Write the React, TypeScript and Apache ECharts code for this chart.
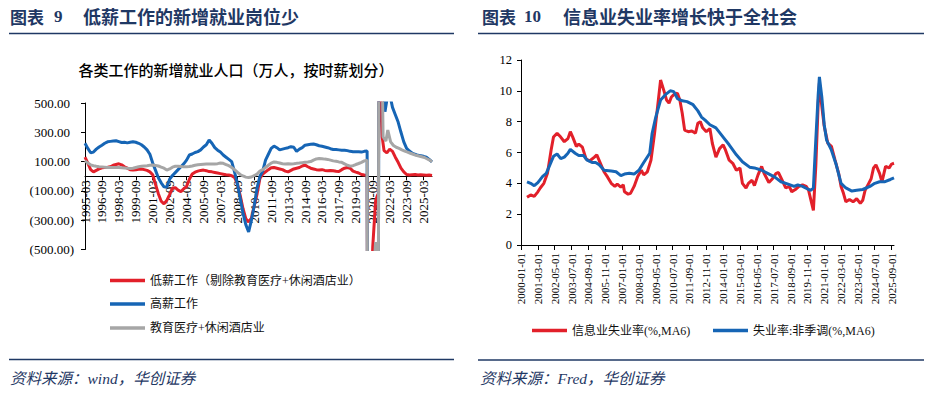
import React, { useEffect, useRef } from "react";
import * as echarts from "echarts";

const NAVY = "#1F3864";
const RED = "#E2202A";
const BLUE = "#1665B5";
const GRAY = "#A6A6A6";
const SERIF_CJK = "'Liberation Serif', 'Noto Sans CJK SC', serif";
const CJK = "'Noto Sans CJK SC', sans-serif";

function monthLabels(y0: number, m0: number, y1: number, m1: number): string[] {
  const out: string[] = [];
  let y = y0;
  let m = m0;
  while (y < y1 || (y === y1 && m <= m1)) {
    out.push(`${y}-${String(m).padStart(2, "0")}`);
    m++;
    if (m > 12) {
      m = 1;
      y++;
    }
  }
  return out;
}

// ---------- Left chart (新增就业人口, 万人) ----------
const leftMonths = monthLabels(1995, 3, 2025, 12);
const leftYTicks = [-500, -300, -100, 100, 300, 500];

const lowWageName = "低薪工作（剔除教育医疗+休闲酒店业）";
const highWageName = "高薪工作";
const eduName = "教育医疗+休闲酒店业";

const lowWage: [string, number][] = [
  ["1995-03", 130], ["1995-06", 90], ["1995-09", 45], ["1995-12", 30],
  ["1996-03", 40], ["1996-06", 50], ["1996-09", 58], ["1996-12", 60],
  ["1997-03", 62], ["1997-06", 65], ["1997-09", 75], ["1997-12", 80],
  ["1998-03", 85], ["1998-06", 78], ["1998-09", 65], ["1998-12", 55],
  ["1999-03", 45], ["1999-06", 42], ["1999-09", 45], ["1999-12", 48],
  ["2000-03", 50], ["2000-06", 45], ["2000-09", 40], ["2000-12", 30],
  ["2001-03", 10], ["2001-06", -55], ["2001-09", -119], ["2001-12", -170],
  ["2002-03", -188], ["2002-06", -165], ["2002-09", -125], ["2002-12", -80],
  ["2003-03", -78], ["2003-06", -95], ["2003-09", -105], ["2003-12", -85],
  ["2004-03", -70], ["2004-06", -20], ["2004-09", 15], ["2004-12", 28],
  ["2005-03", 35], ["2005-06", 40], ["2005-09", 42], ["2005-12", 38],
  ["2006-03", 32], ["2006-06", 30], ["2006-09", 26], ["2006-12", 22],
  ["2007-03", 18], ["2007-06", 14], ["2007-09", 10], ["2007-12", 8],
  ["2008-03", 4], ["2008-06", -8], ["2008-09", -50], ["2008-12", -130],
  ["2009-03", -220], ["2009-06", -290], ["2009-09", -312], ["2009-12", -285],
  ["2010-03", -200], ["2010-06", -120], ["2010-09", -15], ["2010-12", 15],
  ["2011-03", 30], ["2011-06", 45], ["2011-09", 58], ["2011-12", 60],
  ["2012-03", 55], ["2012-06", 50], ["2012-09", 45], ["2012-12", 35],
  ["2013-03", 30], ["2013-06", 40], ["2013-09", 50], ["2013-12", 55],
  ["2014-03", 60], ["2014-06", 70], ["2014-09", 76], ["2014-12", 65],
  ["2015-03", 55], ["2015-06", 50], ["2015-09", 45], ["2015-12", 42],
  ["2016-03", 45], ["2016-06", 40], ["2016-09", 38], ["2016-12", 40],
  ["2017-03", 38], ["2017-06", 34], ["2017-09", 32], ["2017-12", 45],
  ["2018-03", 55], ["2018-06", 60], ["2018-09", 55], ["2018-12", 35],
  ["2019-03", 28], ["2019-06", 22], ["2019-09", 12], ["2019-12", 8],
  ["2020-03", 5], ["2020-04", -2200], ["2020-06", -1200], ["2020-08", -700],
  ["2020-09", -480], ["2020-12", -170], ["2021-02", -130], ["2021-03", -117],
  ["2021-04", 1500], ["2021-05", 700], ["2021-07", 270], ["2021-09", 175],
  ["2021-12", 160], ["2022-03", 185], ["2022-06", 170], ["2022-09", 130],
  ["2022-12", 95], ["2023-03", 55], ["2023-06", 30], ["2023-09", 12],
  ["2023-12", 8], ["2024-03", 10], ["2024-06", 12], ["2024-09", 8],
  ["2024-12", 10], ["2025-03", 9], ["2025-06", 7], ["2025-09", 8], ["2025-12", 5],
];

const highWage: [string, number][] = [
  ["1995-03", 225], ["1995-06", 190], ["1995-09", 160], ["1995-12", 165],
  ["1996-03", 185], ["1996-06", 200], ["1996-09", 212], ["1996-12", 225],
  ["1997-03", 235], ["1997-06", 238], ["1997-09", 240], ["1997-12", 242],
  ["1998-03", 236], ["1998-06", 230], ["1998-09", 232], ["1998-12", 228],
  ["1999-03", 232], ["1999-06", 236], ["1999-09", 232], ["1999-12", 225],
  ["2000-03", 215], ["2000-06", 200], ["2000-09", 180], ["2000-12", 150],
  ["2001-03", 90], ["2001-06", 40], ["2001-09", -10], ["2001-12", -45],
  ["2002-03", -72], ["2002-06", -75], ["2002-09", -20], ["2002-12", 5],
  ["2003-03", 25], ["2003-06", 45], ["2003-09", 65], ["2003-12", 85],
  ["2004-03", 110], ["2004-06", 145], ["2004-09", 152], ["2004-12", 162],
  ["2005-03", 168], ["2005-06", 180], ["2005-09", 200], ["2005-12", 215],
  ["2006-03", 248], ["2006-06", 225], ["2006-09", 195], ["2006-12", 178],
  ["2007-03", 165], ["2007-06", 145], ["2007-09", 130], ["2007-12", 115],
  ["2008-03", 100], ["2008-06", 30], ["2008-09", -50], ["2008-12", -150],
  ["2009-03", -250], ["2009-06", -330], ["2009-09", -380], ["2009-12", -300],
  ["2010-03", -200], ["2010-06", -80], ["2010-09", 0], ["2010-12", 35],
  ["2011-03", 110], ["2011-06", 150], ["2011-09", 190], ["2011-12", 206],
  ["2012-03", 195], ["2012-06", 180], ["2012-09", 185], ["2012-12", 190],
  ["2013-03", 195], ["2013-06", 202], ["2013-09", 198], ["2013-12", 170],
  ["2014-03", 185], ["2014-06", 195], ["2014-09", 212], ["2014-12", 215],
  ["2015-03", 218], ["2015-06", 220], ["2015-09", 215], ["2015-12", 208],
  ["2016-03", 205], ["2016-06", 200], ["2016-09", 195], ["2016-12", 188],
  ["2017-03", 183], ["2017-06", 182], ["2017-09", 180], ["2017-12", 178],
  ["2018-03", 178], ["2018-06", 175], ["2018-09", 170], ["2018-12", 167],
  ["2019-03", 168], ["2019-06", 167], ["2019-09", 165], ["2019-12", 170],
  ["2020-03", 172], ["2020-04", -2500], ["2020-06", -1800], ["2020-09", -1200],
  ["2020-12", -900], ["2021-03", -800], ["2021-04", 2500], ["2021-06", 1400],
  ["2021-08", 700], ["2021-10", 440], ["2021-12", 520], ["2022-03", 560],
  ["2022-06", 470], ["2022-09", 420], ["2022-12", 370], ["2023-03", 300],
  ["2023-06", 235], ["2023-09", 190], ["2023-12", 172], ["2024-03", 158],
  ["2024-06", 150], ["2024-09", 143], ["2024-12", 140], ["2025-03", 136],
  ["2025-06", 130], ["2025-09", 115], ["2025-12", 98],
];

const eduLeisure: [string, number][] = [
  ["1995-03", 105], ["1995-06", 90], ["1995-09", 78], ["1995-12", 72],
  ["1996-03", 68], ["1996-06", 65], ["1996-09", 64], ["1996-12", 62],
  ["1997-03", 60], ["1997-06", 60], ["1997-09", 60], ["1997-12", 60],
  ["1998-03", 60], ["1998-06", 58], ["1998-09", 56], ["1998-12", 54],
  ["1999-03", 53], ["1999-06", 55], ["1999-09", 60], ["1999-12", 65],
  ["2000-03", 68], ["2000-06", 70], ["2000-09", 72], ["2000-12", 75],
  ["2001-03", 76], ["2001-06", 74], ["2001-09", 70], ["2001-12", 62],
  ["2002-03", 55], ["2002-06", 42], ["2002-09", 50], ["2002-12", 62],
  ["2003-03", 68], ["2003-06", 68], ["2003-09", 66], ["2003-12", 64],
  ["2004-03", 64], ["2004-06", 66], ["2004-09", 70], ["2004-12", 75],
  ["2005-03", 78], ["2005-06", 80], ["2005-09", 82], ["2005-12", 83],
  ["2006-03", 83], ["2006-06", 83], ["2006-09", 84], ["2006-12", 86],
  ["2007-03", 90], ["2007-06", 88], ["2007-09", 80], ["2007-12", 72],
  ["2008-03", 60], ["2008-06", 45], ["2008-09", 28], ["2008-12", 12],
  ["2009-03", 2], ["2009-06", -6], ["2009-09", -9], ["2009-12", -5],
  ["2010-03", 5], ["2010-06", 15], ["2010-09", 35], ["2010-12", 45],
  ["2011-03", 60], ["2011-06", 75], ["2011-09", 90], ["2011-12", 98],
  ["2012-03", 95], ["2012-06", 90], ["2012-09", 85], ["2012-12", 83],
  ["2013-03", 85], ["2013-06", 83], ["2013-09", 85], ["2013-12", 88],
  ["2014-03", 90], ["2014-06", 93], ["2014-09", 95], ["2014-12", 97],
  ["2015-03", 100], ["2015-06", 110], ["2015-09", 118], ["2015-12", 121],
  ["2016-03", 120], ["2016-06", 117], ["2016-09", 115], ["2016-12", 110],
  ["2017-03", 105], ["2017-06", 102], ["2017-09", 98], ["2017-12", 95],
  ["2018-03", 85], ["2018-06", 75], ["2018-09", 69], ["2018-12", 72],
  ["2019-03", 80], ["2019-06", 87], ["2019-09", 95], ["2019-12", 105],
  ["2020-03", 110], ["2020-04", -3000], ["2020-06", -2000], ["2020-09", -900],
  ["2020-11", -560], ["2020-12", -450], ["2021-01", -560], ["2021-03", -700],
  ["2021-04", 3000], ["2021-06", 1200], ["2021-08", 270], ["2021-11", 240],
  ["2022-01", 315], ["2022-04", 235], ["2022-07", 210], ["2022-10", 198],
  ["2023-01", 190], ["2023-04", 180], ["2023-07", 172], ["2023-10", 165],
  ["2024-01", 157], ["2024-04", 150], ["2024-07", 143], ["2024-10", 138],
  ["2025-01", 133], ["2025-04", 128], ["2025-07", 118], ["2025-10", 108],
  ["2025-12", 98],
];

// ---------- Right chart (失业率, %) ----------
const rightMonths = monthLabels(2000, 1, 2025, 11);
const infoName = "信息业失业率(%,MA6)";
const totalName = "失业率:非季调(%,MA6)";

const infoRate: [string, number][] = [
  ["2000-06", 3.1], ["2000-09", 3.25], ["2000-12", 3.15], ["2001-03", 3.45], ["2001-05", 3.7],
  ["2001-08", 4.0], ["2001-11", 4.65], ["2002-02", 6.15], ["2002-04", 7.0], ["2002-07", 7.25],
  ["2002-10", 7.0], ["2003-01", 6.7], ["2003-04", 6.9], ["2003-06", 7.35], ["2003-08", 7.0],
  ["2003-11", 6.4], ["2004-01", 6.55], ["2004-04", 6.35], ["2004-07", 5.6], ["2004-10", 5.45],
  ["2005-02", 5.7], ["2005-04", 5.85], ["2005-07", 5.3], ["2005-10", 4.75], ["2006-01", 4.4],
  ["2006-04", 4.0], ["2006-07", 3.8], ["2006-09", 3.95], ["2006-12", 3.75], ["2007-02", 3.9],
  ["2007-03", 3.45], ["2007-06", 3.3], ["2007-08", 3.35], ["2007-11", 3.8], ["2008-02", 4.45],
  ["2008-05", 4.85], ["2008-07", 4.55], ["2008-10", 4.75], ["2009-01", 5.5], ["2009-04", 7.25],
  ["2009-07", 9.3], ["2009-09", 10.7], ["2009-12", 9.95], ["2010-02", 9.4], ["2010-04", 9.2],
  ["2010-06", 9.6], ["2010-08", 9.75], ["2010-11", 9.85], ["2011-01", 9.4], ["2011-03", 8.55],
  ["2011-05", 7.45], ["2011-08", 7.35], ["2011-11", 7.4], ["2012-02", 7.25], ["2012-04", 7.9],
  ["2012-06", 8.0], ["2012-08", 7.6], ["2012-11", 7.35], ["2013-02", 7.55], ["2013-04", 6.6],
  ["2013-07", 5.7], ["2013-10", 6.25], ["2014-01", 6.5], ["2014-03", 6.15], ["2014-06", 5.5],
  ["2014-09", 5.3], ["2014-12", 4.85], ["2015-03", 5.0], ["2015-05", 4.0], ["2015-08", 3.7],
  ["2015-10", 4.0], ["2016-01", 4.2], ["2016-03", 3.85], ["2016-06", 4.55], ["2016-09", 5.1],
  ["2016-11", 4.65], ["2017-03", 4.05], ["2017-06", 4.3], ["2017-09", 4.65], ["2017-11", 4.7],
  ["2018-02", 4.2], ["2018-05", 3.7], ["2018-08", 3.8], ["2018-10", 3.45], ["2019-01", 3.6],
  ["2019-04", 3.8], ["2019-07", 3.9], ["2019-10", 3.8], ["2019-12", 3.55], ["2020-02", 2.9],
  ["2020-04", 2.25], ["2020-06", 5.1], ["2020-08", 9.2], ["2020-09", 10.5], ["2020-11", 9.0],
  ["2021-01", 7.7], ["2021-04", 6.6], ["2021-07", 6.4], ["2021-10", 5.5], ["2022-01", 4.65],
  ["2022-03", 3.8], ["2022-05", 3.35], ["2022-07", 2.8], ["2022-10", 2.95], ["2023-01", 2.8],
  ["2023-04", 3.0], ["2023-07", 2.7], ["2023-09", 2.9], ["2023-11", 3.55], ["2024-02", 4.0],
  ["2024-04", 4.3], ["2024-06", 5.0], ["2024-08", 5.2], ["2024-11", 4.65], ["2025-01", 4.1],
  ["2025-04", 5.1], ["2025-07", 5.0], ["2025-09", 5.25], ["2025-11", 5.3],
];

const totalRate: [string, number][] = [
  ["2000-06", 4.1], ["2000-09", 4.0], ["2000-12", 3.85], ["2001-03", 4.05], ["2001-07", 4.45],
  ["2001-10", 4.65], ["2002-01", 5.2], ["2002-04", 5.75], ["2002-07", 5.9], ["2002-10", 5.6],
  ["2003-01", 5.7], ["2003-04", 5.95], ["2003-06", 6.2], ["2003-10", 5.95], ["2004-01", 5.8],
  ["2004-05", 5.8], ["2004-08", 5.5], ["2004-12", 5.35], ["2005-03", 5.35], ["2005-06", 5.2],
  ["2005-10", 4.85], ["2006-04", 4.8], ["2006-08", 4.75], ["2006-12", 4.5], ["2007-03", 4.6],
  ["2007-07", 4.65], ["2007-11", 4.6], ["2008-03", 4.85], ["2008-07", 5.35], ["2008-12", 5.95],
  ["2009-02", 7.25], ["2009-05", 8.3], ["2009-09", 9.4], ["2010-01", 9.75], ["2010-05", 10.0],
  ["2010-08", 9.95], ["2010-11", 9.5], ["2011-03", 9.35], ["2011-07", 9.3], ["2011-12", 9.1],
  ["2012-04", 8.7], ["2012-07", 8.3], ["2012-10", 8.1], ["2013-02", 7.8], ["2013-07", 7.6],
  ["2014-01", 7.0], ["2014-06", 6.5], ["2014-12", 5.85], ["2015-05", 5.4], ["2015-11", 5.05],
  ["2016-03", 5.0], ["2016-09", 4.85], ["2017-02", 4.65], ["2017-08", 4.4], ["2018-01", 4.1],
  ["2018-07", 3.95], ["2018-12", 3.8], ["2019-03", 3.9], ["2019-07", 3.8], ["2019-12", 3.6],
  ["2020-02", 3.55], ["2020-04", 3.7], ["2020-06", 6.8], ["2020-08", 9.75], ["2020-09", 10.9],
  ["2020-11", 9.6], ["2021-01", 7.8], ["2021-03", 6.8], ["2021-07", 6.15], ["2021-11", 5.2],
  ["2022-03", 4.0], ["2022-07", 3.7], ["2022-12", 3.5], ["2023-04", 3.55], ["2023-09", 3.6],
  ["2024-03", 3.8], ["2024-07", 4.0], ["2024-11", 4.1], ["2025-03", 4.1], ["2025-08", 4.25],
  ["2025-11", 4.35],
];

function toIdx(rows: [string, number][], cats: string[]) {
  return rows.map(([d, v]) => [cats.indexOf(d), v]);
}

function lineSeries(name: string, data: [string, number][], cats: string[], color: string, axis: number) {
  return {
    name,
    type: "line",
    xAxisIndex: axis,
    yAxisIndex: axis,
    data: toIdx(data, cats),
    symbol: "none",
    showSymbol: false,
    clip: true,
    lineStyle: { color, width: 3 },
    itemStyle: { color },
    emphasis: { disabled: true },
  };
}

function legendItem(name: string, left: number, top: number) {
  return {
    data: [name],
    left,
    top,
    padding: 0,
    icon: "rect",
    itemWidth: 35,
    itemHeight: 3.5,
    selectedMode: false,
    textStyle: { fontSize: 12, color: "#111", fontFamily: SERIF_CJK },
  };
}

const LEFT_GRID_H = 146.5;

function buildOption() {
  return {
    animation: false,
    backgroundColor: "#ffffff",
    textStyle: { fontFamily: SERIF_CJK },
    grid: [
      { left: 85, top: 103, width: 347, height: LEFT_GRID_H },
      { left: 521, top: 60, width: 373, height: 185 },
    ],
    xAxis: [
      {
        type: "category",
        gridIndex: 0,
        data: leftMonths,
        boundaryGap: false,
        position: "bottom",
        offset: -LEFT_GRID_H / 2,
        axisLine: { onZero: false, lineStyle: { color: "#000", width: 1 } },
        axisTick: { show: true, interval: 17, length: 4, lineStyle: { color: "#000" } },
        axisLabel: {
          interval: 17,
          rotate: 90,
          fontSize: 13,
          color: "#000",
          margin: 4,
          fontFamily: "'Liberation Serif', serif",
        },
        splitLine: { show: false },
      },
      {
        type: "category",
        gridIndex: 1,
        data: rightMonths,
        boundaryGap: false,
        axisLine: { lineStyle: { color: "#000", width: 1 } },
        axisTick: { show: true, interval: 13, length: 5, lineStyle: { color: "#000" } },
        axisLabel: {
          interval: 13,
          rotate: 90,
          fontSize: 11,
          color: "#000",
          margin: 8,
          fontFamily: "'Liberation Serif', serif",
          formatter: (v: string) => v + "-01",
        },
        splitLine: { show: false },
      },
    ],
    yAxis: [
      {
        type: "value",
        gridIndex: 0,
        min: -500,
        max: 500,
        axisLine: { show: true, onZero: false, lineStyle: { color: "#000", width: 1 } },
        axisTick: { show: true, length: 4, customValues: leftYTicks, lineStyle: { color: "#000" } },
        axisLabel: {
          customValues: leftYTicks,
          fontSize: 13,
          color: "#000",
          margin: 11,
          fontFamily: "'Liberation Serif', serif",
          formatter: (v: number) =>
            v < 0 ? `(${Math.abs(v).toFixed(2)})` : `{p|${v.toFixed(2)}}`,
          rich: {
            p: { padding: [0, 4, 0, 0], fontSize: 13, color: "#000", fontFamily: "'Liberation Serif', serif" },
          },
        },
        splitLine: { show: false },
      },
      {
        type: "value",
        gridIndex: 1,
        min: 0,
        max: 12,
        interval: 2,
        axisLine: { show: true, lineStyle: { color: "#000", width: 1 } },
        axisTick: { show: true, length: 4, lineStyle: { color: "#000" } },
        axisLabel: { fontSize: 12.5, color: "#000", margin: 9, fontFamily: "'Liberation Serif', serif" },
        splitLine: { show: false },
      },
    ],
    legend: [
      legendItem(lowWageName, 110, 274.5),
      legendItem(highWageName, 110, 298),
      legendItem(eduName, 110, 322),
      legendItem(infoName, 532, 324.5),
      legendItem(totalName, 713, 324.5),
    ],
    series: [
      lineSeries(lowWageName, lowWage, leftMonths, RED, 0),
      lineSeries(highWageName, highWage, leftMonths, BLUE, 0),
      lineSeries(eduName, eduLeisure, leftMonths, GRAY, 0),
      lineSeries(infoName, infoRate, rightMonths, RED, 1),
      lineSeries(totalName, totalRate, rightMonths, BLUE, 1),
    ],
    graphic: [
      { type: "text", x: 10, y: 16, style: { text: "图表", fontSize: 17, fontWeight: "bold", fontFamily: CJK, fill: NAVY, verticalAlign: "middle" } },
      { type: "text", x: 54, y: 16, style: { text: "9", fontSize: 17, fontWeight: "bold", fontFamily: "'Liberation Serif', serif", fill: NAVY, verticalAlign: "middle" } },
      { type: "text", x: 83, y: 16, style: { text: "低薪工作的新增就业岗位少", fontSize: 18, fontWeight: "bold", fontFamily: CJK, fill: NAVY, verticalAlign: "middle" } },
      { type: "line", shape: { x1: 9, y1: 33.5, x2: 454, y2: 33.5 }, style: { stroke: NAVY, lineWidth: 1.5 } },
      { type: "text", x: 236, y: 69, style: { text: "各类工作的新增就业人口（万人，按时薪划分）", fontSize: 15, fontWeight: 500, fontFamily: CJK, fill: "#000", align: "center", verticalAlign: "middle" } },
      { type: "line", shape: { x1: 9, y1: 359.5, x2: 454, y2: 359.5 }, style: { stroke: NAVY, lineWidth: 1.5 } },
      { type: "text", x: 10, y: 378, style: { text: "资料来源：wind，华创证券", fontSize: 15.5, fontStyle: "italic", fontFamily: SERIF_CJK, fill: NAVY, verticalAlign: "middle" } },

      { type: "text", x: 482, y: 16, style: { text: "图表", fontSize: 17, fontWeight: "bold", fontFamily: CJK, fill: NAVY, verticalAlign: "middle" } },
      { type: "text", x: 524, y: 16, style: { text: "10", fontSize: 17, fontWeight: "bold", fontFamily: "'Liberation Serif', serif", fill: NAVY, verticalAlign: "middle" } },
      { type: "text", x: 563, y: 16, style: { text: "信息业失业率增长快于全社会", fontSize: 18, fontWeight: "bold", fontFamily: CJK, fill: NAVY, verticalAlign: "middle" } },
      { type: "line", shape: { x1: 478, y1: 33.5, x2: 924, y2: 33.5 }, style: { stroke: NAVY, lineWidth: 1.5 } },
      { type: "line", shape: { x1: 478, y1: 360, x2: 924, y2: 360 }, style: { stroke: NAVY, lineWidth: 1.5 } },
      { type: "text", x: 480, y: 378, style: { text: "资料来源：Fred，华创证券", fontSize: 15.5, fontStyle: "italic", fontFamily: SERIF_CJK, fill: NAVY, verticalAlign: "middle" } },
    ],
  };
}

export default function App() {
  const ref = useRef<HTMLDivElement>(null);
  useEffect(() => {
    if (!ref.current) return;
    const chart = echarts.init(ref.current, undefined, { renderer: "svg", width: 930, height: 393 });
    chart.setOption(buildOption() as any);
    return () => chart.dispose();
  }, []);
  return (
    <div
      ref={ref}
      style={{ position: "fixed", left: 0, top: 0, width: 930, height: 393, background: "#fff" }}
    />
  );
}
